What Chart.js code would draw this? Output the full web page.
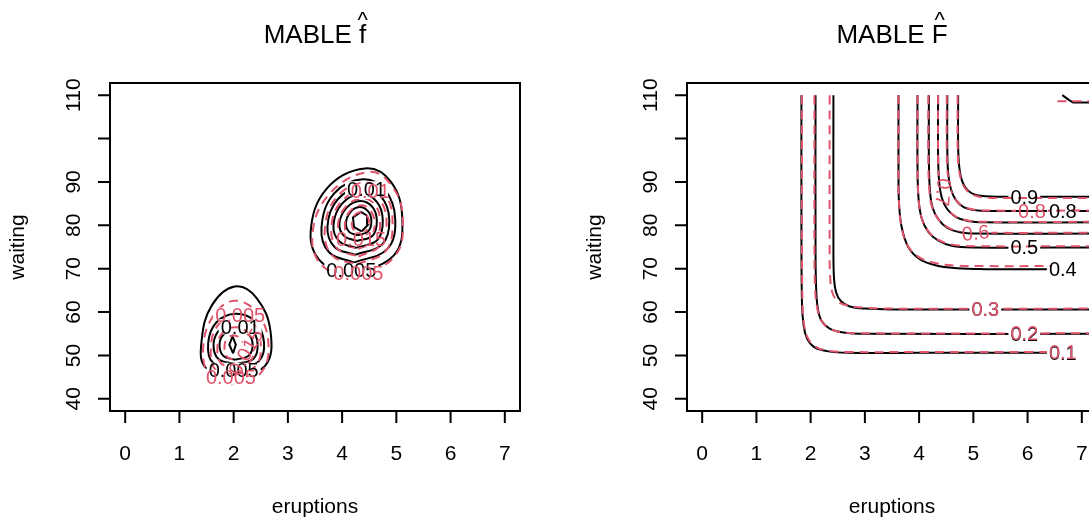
<!DOCTYPE html>
<html>
<head>
<meta charset="utf-8">
<script src="https://cdn.jsdelivr.net/npm/chart.js@4.4.0/dist/chart.umd.min.js"></script>
<style>
html, body { margin: 0; padding: 0; background: #fff; }
#wrap { position: relative; width: 1089px; height: 518px; overflow: hidden; }
.panel { position: absolute; top: 0; width: 577px; height: 518px; }
</style>
</head>
<body>
<div id="wrap">
  <div class="panel" style="left:0px"><canvas id="grafF" width="577" height="518"></canvas></div>
  <div class="panel" style="left:577px"><canvas id="grafFF" width="577" height="518"></canvas></div>
</div>
<script>
var xTicks = [0, 1, 2, 3, 4, 5, 6, 7];
var yTicks = [40, 50, 60, 70, 80, 90, 100, 110];
var yTickLabels = ["40", "50", "60", "70", "80", "90", "", "110"];
var xLim = [-0.28, 7.28];
var yLim = [37.2, 112.8];

// f hat, black (MABLE), long eruptions, levels 0.005 .. 0.035
var fBlackLong = [
  [[4.20,68.8],[4.95,73.0],[5.11,81.5],[4.90,90.0],[4.42,93.1],[3.72,88.5],[3.42,78.5],[3.62,71.5],[4.20,68.8]],
  [[4.22,71.4],[4.83,74.5],[4.98,81.3],[4.80,88.0],[4.38,90.6],[3.85,87.3],[3.62,79.5],[3.76,73.8],[4.22,71.4]],
  [[4.24,73.2],[4.74,75.6],[4.87,81.2],[4.72,86.6],[4.36,88.8],[3.92,86.0],[3.73,79.8],[3.86,75.0],[4.24,73.2]],
  [[4.26,74.8],[4.65,76.6],[4.75,81.1],[4.64,85.4],[4.35,87.2],[4.00,85.0],[3.84,80.0],[3.95,76.3],[4.26,74.8]],
  [[4.27,76.4],[4.56,77.6],[4.64,81.0],[4.56,84.2],[4.33,85.6],[4.08,84.0],[3.95,80.3],[4.04,77.5],[4.27,76.4]],
  [[4.28,77.7],[4.48,78.6],[4.54,81.0],[4.48,83.2],[4.32,84.2],[4.15,83.0],[4.07,80.5],[4.13,78.5],[4.28,77.7]],
  [[4.36,78.6],[4.47,80.0],[4.46,82.2],[4.35,83.1],[4.20,81.8],[4.22,79.6],[4.36,78.6]]
];
// f hat, black, short eruptions
var fBlackShort = [
  [[2.02,45.9],[2.58,47.6],[2.68,55.5],[2.42,63.3],[2.02,65.9],[1.60,61.6],[1.41,53.5],[1.48,47.3],[2.02,45.9]],
  [[2.05,47.0],[2.46,48.6],[2.56,53.0],[2.40,57.8],[2.04,59.6],[1.68,57.6],[1.53,52.8],[1.62,48.3],[2.05,47.0]],
  [[2.05,48.0],[2.37,49.3],[2.44,52.8],[2.33,56.0],[2.04,57.4],[1.75,56.0],[1.63,52.7],[1.72,49.2],[2.05,48.0]],
  [[2.03,49.0],[2.28,50.0],[2.35,52.6],[2.27,54.9],[2.03,55.9],[1.82,54.9],[1.74,52.6],[1.81,49.9],[2.03,49.0]],
  [[1.99,50.5],[2.04,52.5],[1.98,54.4],[1.92,52.5],[1.99,50.5]]
];
// f hat, red dashed
var fRedLong = [
  [[4.30,67.8],[4.98,73.0],[5.12,81.0],[4.95,88.5],[4.50,92.3],[3.75,87.0],[3.45,77.5],[3.65,70.5],[4.30,67.8]],
  [[4.28,71.0],[4.80,74.0],[4.93,80.5],[4.80,87.0],[4.42,89.8],[3.90,86.5],[3.68,79.0],[3.82,73.0],[4.28,71.0]],
  [[4.30,72.8],[4.70,75.3],[4.82,80.5],[4.70,85.8],[4.40,88.0],[3.98,85.4],[3.80,79.4],[3.92,74.6],[4.30,72.8]],
  [[4.30,74.6],[4.62,76.4],[4.70,80.5],[4.62,84.5],[4.38,86.2],[4.06,84.2],[3.92,79.6],[4.02,75.9],[4.30,74.6]],
  [[4.32,76.4],[4.54,77.7],[4.60,80.5],[4.53,83.3],[4.36,84.6],[4.14,83.2],[4.05,80.0],[4.12,77.4],[4.32,76.4]],
  [[4.33,78.0],[4.45,78.8],[4.50,80.5],[4.46,82.2],[4.35,83.0],[4.22,82.2],[4.18,80.3],[4.22,78.8],[4.33,78.0]]
];
var fRedShort = [
  [[1.95,43.3],[2.50,46.0],[2.64,53.0],[2.42,60.0],[2.00,62.6],[1.62,59.0],[1.44,52.0],[1.55,45.5],[1.95,43.3]],
  [[2.00,45.5],[2.40,47.5],[2.50,52.5],[2.35,57.5],[2.02,59.2],[1.70,56.8],[1.58,51.8],[1.66,46.8],[2.00,45.5]],
  [[2.00,47.3],[2.30,48.6],[2.38,52.0],[2.27,55.2],[2.02,56.5],[1.78,55.0],[1.70,51.7],[1.76,48.3],[2.00,47.3]],
  [[2.00,49.0],[2.14,49.8],[2.18,51.8],[2.13,53.8],[2.00,54.6],[1.87,53.8],[1.83,51.6],[1.87,49.8],[2.00,49.0]]
];
// contour labels: text, x, y, angle
var fBlackLabels = [["0.005",4.17,69.6,0],["0.01",4.45,88.4,0],["0.01",2.12,56.6,0],["0.005",2.00,46.6,0]];
var fRedLabels = [["0.005",4.30,69.0,0],["0.01",4.52,87.8,0],["0.015",4.35,76.8,0],
  ["0.005",2.12,59.3,0],["0.015",2.22,50.8,-60],["0.005",1.95,45.0,0]];

// F hat, levels 0.1 .. 0.9 (+ one at the top right)
var FBlack = [
  [[1.83,110],[1.83,80],[1.84,62],[1.87,57],[1.93,54.0],[2.06,52.0],[2.30,51.0],[2.70,50.6],[4.0,50.6],[6.9,50.6]],
  [[2.09,110],[2.09,75],[2.10,66],[2.13,61],[2.20,58.0],[2.35,56.2],[2.60,55.3],[3.0,55.0],[7.28,55.0]],
  [[2.42,110],[2.42,75],[2.43,68],[2.47,64.5],[2.56,62.5],[2.72,61.3],[3.0,60.8],[3.5,60.6],[7.28,60.6]],
  [[3.62,110],[3.62,92],[3.63,85],[3.68,79.5],[3.80,75.0],[4.00,72.3],[4.30,70.8],[4.70,70.1],[5.2,69.9],[6.9,69.9]],
  [[3.97,110],[3.97,94],[3.99,86],[4.05,81.5],[4.17,78.5],[4.35,76.5],[4.60,75.3],[5.0,74.9],[7.28,74.9]],
  [[4.18,110],[4.18,95],[4.20,88],[4.25,84],[4.36,81.3],[4.52,79.4],[4.75,78.4],[5.1,78.1],[7.28,78.1]],
  [[4.35,110],[4.35,96],[4.37,90],[4.42,86.3],[4.52,83.7],[4.68,81.9],[4.90,81.0],[5.2,80.7],[7.28,80.7]],
  [[4.52,110],[4.52,97],[4.54,91.5],[4.59,88.2],[4.68,85.8],[4.82,84.2],[5.02,83.5],[5.3,83.3],[7.28,83.3]],
  [[4.72,110],[4.72,98],[4.74,93.5],[4.79,90.3],[4.88,88.3],[5.02,87.1],[5.22,86.7],[5.5,86.6],[7.28,86.6]],
  [[6.64,110],[6.76,108.9],[6.84,108.3],[7.28,108.3]]
];
var FRed = [
  [[1.84,110],[1.84,80],[1.85,62],[1.88,57],[1.95,54.0],[2.08,52.1],[2.32,51.1],[2.70,50.8],[4.0,50.8],[6.9,50.8]],
  [[2.07,110],[2.07,75],[2.08,66],[2.12,61],[2.20,58.0],[2.35,56.2],[2.60,55.3],[3.0,55.1],[7.28,55.1]],
  [[2.35,110],[2.35,75],[2.36,68],[2.40,64.5],[2.50,62.5],[2.68,61.5],[3.0,61.0],[3.5,60.8],[7.28,60.8]],
  [[3.62,110],[3.62,92],[3.63,85],[3.67,80],[3.78,75.5],[3.98,72.8],[4.30,71.3],[4.70,70.7],[5.2,70.6],[6.45,70.6]],
  [[3.97,110],[3.97,94],[3.99,86],[4.05,81.6],[4.17,78.6],[4.35,76.7],[4.60,75.6],[5.0,75.2],[7.28,75.2]],
  [[4.17,110],[4.17,95],[4.19,88],[4.24,84.2],[4.35,81.5],[4.52,79.6],[4.75,78.6],[5.1,78.3],[7.28,78.3]],
  [[4.35,110],[4.35,96],[4.37,90],[4.42,86.4],[4.52,83.8],[4.68,82.0],[4.90,81.1],[5.2,80.8],[7.28,80.8]],
  [[4.51,110],[4.51,97],[4.53,91.5],[4.58,88.3],[4.68,85.8],[4.82,84.3],[5.02,83.6],[5.3,83.4],[7.28,83.4]],
  [[4.71,110],[4.71,98],[4.73,93.5],[4.78,90.3],[4.87,88.2],[5.02,86.9],[5.22,86.4],[5.5,86.3],[7.28,86.3]],
  [[6.55,108.6],[7.28,108.6]]
];
var FBlackLabels = [["0.1",6.65,50.6,0],["0.2",5.94,55.0,0],["0.3",5.22,60.6,0],["0.4",6.65,69.9,0],
  ["0.5",5.94,74.9,0],["0.8",6.65,83.3,0],["0.9",5.94,86.6,0]];
var FRedLabels = [["0.1",6.65,50.8,0],["0.2",5.94,55.1,0],["0.3",5.22,60.8,0],["0.6",5.04,78.3,-6],
  ["0.7",4.45,87.6,95],["0.8",6.08,83.4,0]];

var crvena = "#DF536B";
var slova = "'Liberation Sans', Arial, Helvetica, sans-serif";
var panelInfo = {
  grafF: { sym: "f", black: fBlackLabels, red: fRedLabels },
  grafFF: { sym: "F", black: FBlackLabels, red: FRedLabels }
};

function skupovi(linije, boja, isprekidano) {
  return linije.map(function(pts) {
    return {
      label: isprekidano ? "red" : "black",
      data: pts.map(function(p) { return { x: p[0], y: p[1] }; }),
      showLine: true,
      borderColor: boja,
      borderWidth: 2,
      borderDash: isprekidano ? [9, 6] : [],
      pointRadius: 0,
      fill: false,
      tension: pts.length > 7 ? 0.4 : 0,
      order: isprekidano ? 1 : 2
    };
  });
}

function rupeZaOznake(chart, oznake) {
  var ctx = chart.ctx, sx = chart.scales.x, sy = chart.scales.y;
  ctx.save();
  ctx.font = "20px " + slova;
  ctx.beginPath();
  ctx.rect(0, 0, chart.width, chart.height);
  oznake.forEach(function(o) {
    var w = ctx.measureText(o[0]).width + 4, h = 15;
    ctx.save();
    ctx.translate(sx.getPixelForValue(o[1]), sy.getPixelForValue(o[2]));
    ctx.rotate(o[3] * Math.PI / 180);
    ctx.rect(-w / 2, -h / 2, w, h);
    ctx.restore();
  });
  ctx.clip("evenodd");
}

function napisiOznake(chart, oznake, boja) {
  var ctx = chart.ctx, sx = chart.scales.x, sy = chart.scales.y;
  ctx.save();
  ctx.font = "20px " + slova;
  ctx.fillStyle = boja;
  ctx.textAlign = "center";
  ctx.textBaseline = "alphabetic";
  oznake.forEach(function(o) {
    ctx.save();
    ctx.translate(sx.getPixelForValue(o[1]), sy.getPixelForValue(o[2]));
    ctx.rotate(o[3] * Math.PI / 180);
    ctx.fillText(o[0], 0, 7);
    ctx.restore();
  });
  ctx.restore();
}

function nacrtajOsi(chart, info) {
  var ctx = chart.ctx, a = chart.chartArea, sx = chart.scales.x, sy = chart.scales.y;
  var cx = (a.left + a.right) / 2, cy = (a.top + a.bottom) / 2;
  ctx.save();
  ctx.strokeStyle = "#000";
  ctx.fillStyle = "#000";
  ctx.lineWidth = 2;
  ctx.strokeRect(a.left, a.top, a.right - a.left, a.bottom - a.top);

  ctx.beginPath();
  ctx.moveTo(sx.getPixelForValue(xTicks[0]), a.bottom);
  ctx.lineTo(sx.getPixelForValue(xTicks[xTicks.length - 1]), a.bottom);
  xTicks.forEach(function(t) {
    var px = sx.getPixelForValue(t);
    ctx.moveTo(px, a.bottom);
    ctx.lineTo(px, a.bottom + 12);
  });
  ctx.moveTo(a.left, sy.getPixelForValue(yTicks[0]));
  ctx.lineTo(a.left, sy.getPixelForValue(yTicks[yTicks.length - 1]));
  yTicks.forEach(function(t) {
    var py = sy.getPixelForValue(t);
    ctx.moveTo(a.left, py);
    ctx.lineTo(a.left - 12, py);
  });
  ctx.stroke();

  ctx.font = "21px " + slova;
  ctx.textAlign = "center";
  ctx.textBaseline = "alphabetic";
  xTicks.forEach(function(t) {
    ctx.fillText(String(t), sx.getPixelForValue(t), a.bottom + 49);
  });
  yTicks.forEach(function(t, i) {
    ctx.save();
    ctx.translate(a.left - 30, sy.getPixelForValue(t));
    ctx.rotate(-Math.PI / 2);
    ctx.fillText(yTickLabels[i], 0, 0);
    ctx.restore();
  });
  ctx.fillText("eruptions", cx, 513);
  ctx.save();
  ctx.translate(24, cy);
  ctx.rotate(-Math.PI / 2);
  ctx.fillText("waiting", 0, 0);
  ctx.restore();

  // naslov s kapicom
  ctx.font = "26px " + slova;
  var prvi = "MABLE ", w1 = ctx.measureText(prvi).width, w2 = ctx.measureText(info.sym).width;
  var x0 = cx - (w1 + w2) / 2;
  ctx.textAlign = "left";
  ctx.fillText(prvi, x0, 43);
  ctx.fillText(info.sym, x0 + w1, 43);
  ctx.font = "22px " + slova;
  ctx.textAlign = "center";
  ctx.fillText("^", x0 + w1 + w2 / 2, 27);
  ctx.restore();
}

var rStil = {
  id: "rStil",
  beforeDatasetDraw: function(chart, args) {
    var info = panelInfo[chart.canvas.id];
    var ds = chart.data.datasets[args.index];
    rupeZaOznake(chart, ds.label === "red" ? info.red : info.black);
  },
  afterDatasetDraw: function(chart) { chart.ctx.restore(); },
  afterDraw: function(chart) {
    var info = panelInfo[chart.canvas.id];
    napisiOznake(chart, info.black, "#000");
    napisiOznake(chart, info.red, crvena);
    nacrtajOsi(chart, info);
  }
};

function napraviGraf(id, crne, crvene) {
  return new Chart(document.getElementById(id), {
    type: "scatter",
    data: { datasets: skupovi(crne, "#000", false).concat(skupovi(crvene, crvena, true)) },
    options: {
      responsive: false,
      devicePixelRatio: 1,
      animation: false,
      layout: { padding: { left: 110, right: 57, top: 83, bottom: 107 } },
      scales: {
        x: { type: "linear", min: xLim[0], max: xLim[1], display: false },
        y: { type: "linear", min: yLim[0], max: yLim[1], display: false }
      },
      plugins: { legend: { display: false }, tooltip: { enabled: false }, title: { display: false } },
      events: []
    },
    plugins: [rStil]
  });
}

var grafovi = [];
grafovi.push(napraviGraf("grafF", fBlackLong.concat(fBlackShort), fRedLong.concat(fRedShort)));
grafovi.push(napraviGraf("grafFF", FBlack, FRed));
</script>
</body>
</html>
